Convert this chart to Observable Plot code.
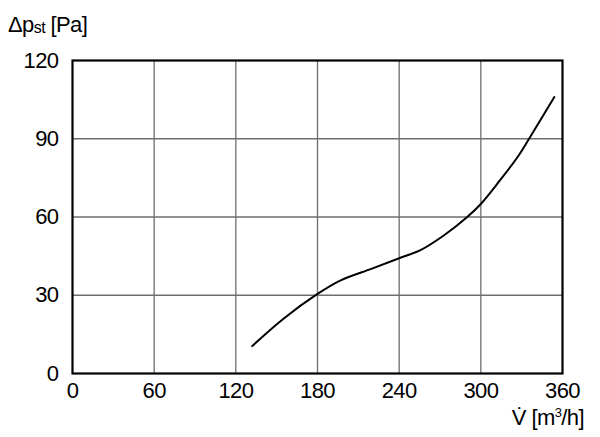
<!DOCTYPE html>
<html><head><meta charset="utf-8">
<script src="https://cdn.jsdelivr.net/npm/d3@7"></script>
<script src="https://cdn.jsdelivr.net/npm/@observablehq/plot@0.6"></script>
<style>body{margin:0;background:#fff;}#chart{width:600px;height:437px;}svg text{letter-spacing:-0.6px;}</style>
</head><body><div id="chart"></div>
<script>
const flow = [132, 155, 180, 197, 220, 240, 256, 273, 290, 300, 314, 327, 335, 354];
const pressure = [10.5, 21, 30.5, 35.7, 40.2, 44.2, 47.4, 53, 60, 65, 74, 83, 89.6, 106];
const xTicks = [0, 60, 120, 180, 240, 300, 360];
const yTicks = [0, 30, 60, 90, 120];

const data = flow.map((f, i) => ({f, p: pressure[i]}));
const font = "'Liberation Sans', Arial, sans-serif";
const fs = 22;

const chart = Plot.plot({
  width: 600, height: 437,
  marginLeft: 72, marginRight: 38, marginTop: 60, marginBottom: 64,
  style: {fontFamily: font, fontSize: fs + "px", color: "#000", background: "#fff"},
  x: {domain: [0, 360], ticks: xTicks, label: null},
  y: {domain: [0, 120], ticks: yTicks, label: null},
  marks: [
    Plot.gridX(xTicks.slice(1, -1), {stroke: "#6e6e6e", strokeOpacity: 1, strokeWidth: 1.3}),
    Plot.gridY(yTicks.slice(1, -1), {stroke: "#6e6e6e", strokeOpacity: 1, strokeWidth: 1.3}),
    Plot.axisX(xTicks, {tickSize: 0, tickPadding: 9, fontSize: fs, label: null}),
    Plot.axisY(yTicks, {tickSize: 0, tickPadding: 14, fontSize: fs, label: null}),
    Plot.line(data, {x: "f", y: "p", stroke: "#000", strokeWidth: 2, curve: "catmull-rom"}),
    Plot.frame({stroke: "#000", strokeWidth: 2.2})
  ]
});
document.getElementById("chart").appendChild(chart);

const svg = d3.select(chart);
const yl = svg.append("text").attr("x", 8).attr("y", 32).attr("text-anchor", "start")
  .attr("font-family", font).attr("font-size", fs).attr("fill", "#000");
yl.append("tspan").text("Δp");
yl.append("tspan").attr("font-size", 16).attr("dy", 1).text("st");
yl.append("tspan").attr("dy", -1).text(" [Pa]");

const xl = svg.append("text").attr("x", 584).attr("y", 425).attr("text-anchor", "end")
  .attr("font-family", font).attr("font-size", fs).attr("fill", "#000");
xl.append("tspan").text("V\u0307 [m");
xl.append("tspan").attr("font-size", 13).attr("dy", -8).text("3");
xl.append("tspan").attr("dy", 8).text("/h]");
</script></body></html>
